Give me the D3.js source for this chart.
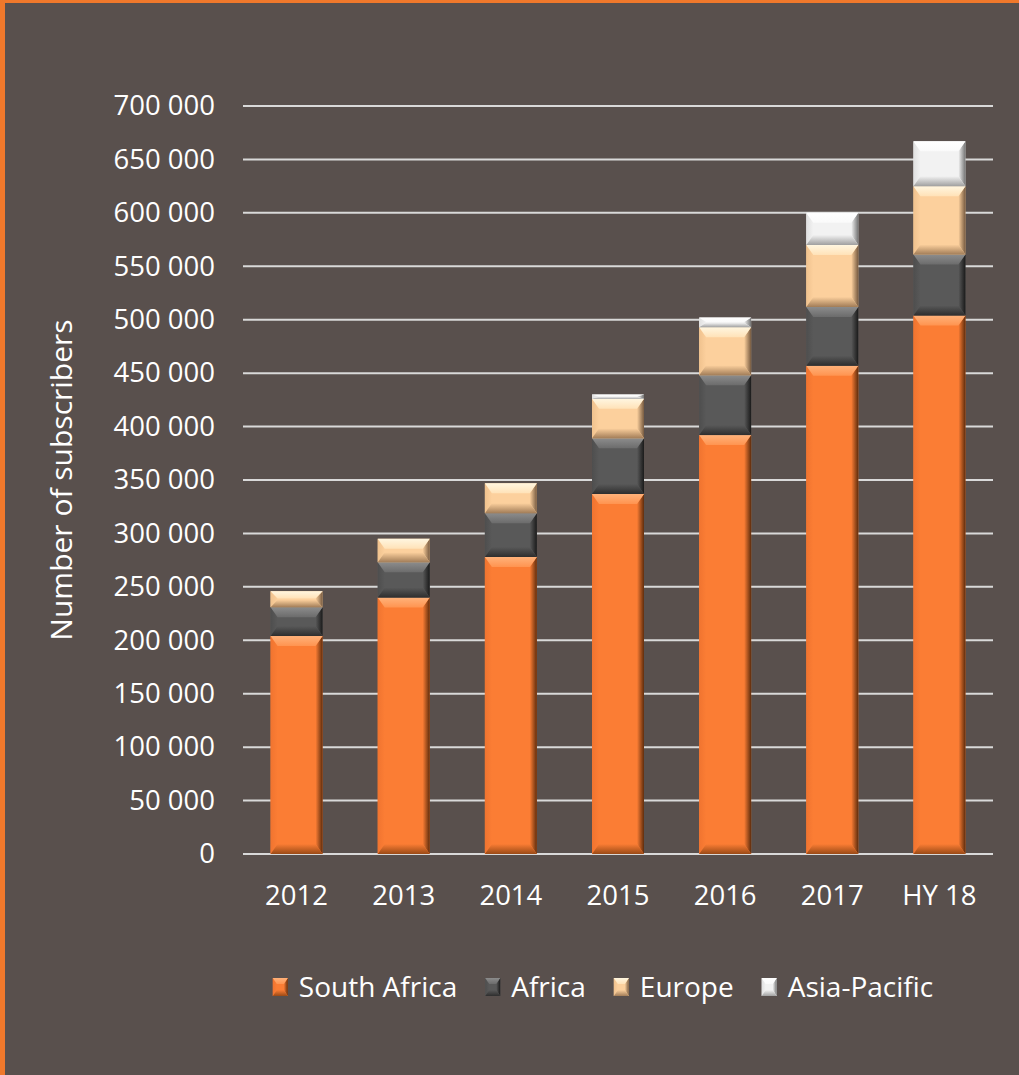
<!DOCTYPE html>
<html>
<head>
<meta charset="utf-8">
<script src="https://cdn.jsdelivr.net/npm/d3@7"></script>
<style>
  html, body { margin: 0; padding: 0; background: #59504d; }
  svg { display: block; }
  text { font-family: "Open Sans", "Noto Sans", sans-serif; fill: #ffffff; }
</style>
</head>
<body>
<svg id="chart" width="1019" height="1075"></svg>
<script>
// Subscriber counts by region
const categories = ["2012", "2013", "2014", "2015", "2016", "2017", "HY 18"];
const seriesNames = ["South Africa", "Africa", "Europe", "Asia-Pacific"];
const southAfrica = [204000, 240000, 278000, 337000, 392000, 457000, 504000];
const africa      = [27000, 33000, 41000, 52000, 56000, 55000, 57000];
const europe      = [15000, 22000, 28000, 37000, 45000, 58000, 64000];
const asiaPacific = [0, 0, 0, 4000, 9000, 30000, 42000];
const yTicks = [0, 50000, 100000, 150000, 200000, 250000, 300000, 350000,
                400000, 450000, 500000, 550000, 600000, 650000, 700000];
const yTitle = "Number of subscribers";

// Bevel palettes: face, top highlight (start/end), left, right shade, bottom shade
const palettes = [
  { face: "#fb7d34", top: "#ffb27a", topEnd: "#ff9450", left: "#f07430", right: "#5e2c0c", bottom: "#9a4a16" },
  { face: "#595959", top: "#8c8c8c", topEnd: "#6c6c6c", left: "#4e4e4e", right: "#1a1a1a", bottom: "#2e2e2e" },
  { face: "#fcd09d", top: "#fff6e0", topEnd: "#ffe2b8", left: "#f0c28e", right: "#765a40", bottom: "#a27d58" },
  { face: "#f2f2f2", top: "#ffffff", topEnd: "#fafafa", left: "#e0e0e0", right: "#747474", bottom: "#a0a0a0" }
];

const svg = d3.select("#chart");
const W = 1019, H = 1075;
const defs = svg.append("defs");

// Gradients for each bevel facet
function grad(id, x1, y1, x2, y2, c1, c2) {
  const g = defs.append("linearGradient").attr("id", id)
    .attr("x1", x1).attr("y1", y1).attr("x2", x2).attr("y2", y2);
  g.append("stop").attr("offset", "0%").attr("stop-color", c1);
  g.append("stop").attr("offset", "100%").attr("stop-color", c2);
}
palettes.forEach((p, i) => {
  grad("top" + i, 0, 0, 0, 1, p.top, p.topEnd);
  grad("left" + i, 0, 0, 1, 0, p.left, p.face);
  grad("right" + i, 0, 0, 1, 0, p.face, p.right);
  grad("bottom" + i, 0, 0, 0, 1, p.face, p.bottom);
});

// Background and orange frame
svg.append("rect").attr("width", W).attr("height", H).attr("fill", "#59504d");
svg.append("rect").attr("x", 0).attr("y", 0).attr("width", W).attr("height", 3).attr("fill", "#f0782b");
svg.append("rect").attr("x", 0).attr("y", 0).attr("width", 5).attr("height", H).attr("fill", "#f0782b");

const x = d3.scaleBand().domain(categories).range([243, 993])
  .paddingInner(0.515).paddingOuter(0.2575);
const y = d3.scaleLinear().domain([0, 700000]).range([854, 106]);

// Gridlines
svg.append("g").selectAll("line").data(yTicks).join("line")
  .attr("x1", 243).attr("x2", 993)
  .attr("y1", d => y(d)).attr("y2", d => y(d))
  .attr("stroke", "#d9d9d9").attr("stroke-width", 2);

// Y axis labels
const fmt = v => d3.format(",")(v).replace(/,/g, " ");
const yAxis = d3.axisLeft(y).tickValues(yTicks).tickFormat(fmt).tickSize(0).tickPadding(0);
const yG = svg.append("g").attr("transform", "translate(215,0)").call(yAxis);
yG.select(".domain").remove();
yG.selectAll("text").attr("font-size", 27.5).attr("fill", "#ffffff")
  .style("font-family", '"Open Sans", sans-serif');

// X axis labels
const xAxis = d3.axisBottom(x).tickSize(0).tickPadding(0);
const xG = svg.append("g").attr("transform", "translate(0,885)").call(xAxis);
xG.select(".domain").remove();
xG.selectAll("text").attr("font-size", 27.5).attr("fill", "#ffffff").attr("dy", "0.71em")
  .style("font-family", '"Open Sans", sans-serif');

// Y axis title
svg.append("text")
  .attr("transform", "translate(72,480) rotate(-90)")
  .attr("text-anchor", "middle")
  .attr("font-size", 30)
  .text(yTitle);

// Draw a bevelled block
function bevel(g, x0, y0, w, h, i, bSize, sSize) {
  if (h <= 0.5) return;
  const b = Math.min(bSize, h / 2.2, w / 2.2);
  const sb = Math.min(sSize, w / 2.2);
  const x1 = x0 + w, y1 = y0 + h;
  const poly = pts => pts.map(p => p.join(",")).join(" ");
  g.append("rect").attr("x", x0).attr("y", y0).attr("width", w).attr("height", h).attr("fill", palettes[i].face);
  g.append("polygon").attr("points", poly([[x0, y0], [x0 + sb, y0 + b], [x0 + sb, y1 - b], [x0, y1]])).attr("fill", `url(#left${i})`);
  g.append("polygon").attr("points", poly([[x1, y0], [x1, y1], [x1 - sb, y1 - b], [x1 - sb, y0 + b]])).attr("fill", `url(#right${i})`);
  g.append("polygon").attr("points", poly([[x0, y0], [x1, y0], [x1 - sb, y0 + b], [x0 + sb, y0 + b]])).attr("fill", `url(#top${i})`);
  g.append("polygon").attr("points", poly([[x0, y1], [x0 + sb, y1 - b], [x1 - sb, y1 - b], [x1, y1]])).attr("fill", `url(#bottom${i})`);
}

// Stacked bars
const rows = categories.map((c, i) => ({
  cat: c,
  "South Africa": southAfrica[i], "Africa": africa[i],
  "Europe": europe[i], "Asia-Pacific": asiaPacific[i]
}));
const stacked = d3.stack().keys(seriesNames)(rows);
const barsG = svg.append("g");
stacked.forEach((layer, si) => {
  layer.forEach(seg => {
    const x0 = x(seg.data.cat);
    const yTop = y(seg[1]), yBot = y(seg[0]);
    bevel(barsG, x0, yTop, x.bandwidth(), yBot - yTop, si, 10, 7);
  });
});

// Legend
const legend = svg.append("g");
const items = legend.selectAll("g").data(seriesNames).join("g");
items.append("text").attr("font-size", 28).attr("dy", "0.35em").text(d => d);
const widths = [];
items.each(function () { widths.push(this.querySelector("text").getComputedTextLength()); });
const markerW = 15, markerGap = 11, itemGap = 28;
const total = d3.sum(widths) + seriesNames.length * (markerW + markerGap) + (seriesNames.length - 1) * itemGap;
let cx = 603 - total / 2;
const legendY = 987;
items.each(function (d, i) {
  const g = d3.select(this);
  bevel(g, cx, legendY - 9, markerW, 18, i, 6, 4);
  g.select("text").attr("x", cx + markerW + markerGap).attr("y", legendY);
  cx += markerW + markerGap + widths[i] + itemGap;
});
</script>
</body>
</html>
